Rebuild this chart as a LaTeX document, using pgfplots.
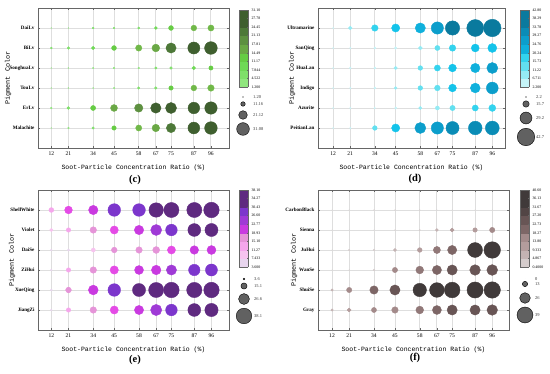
\documentclass[border=0pt]{standalone}
\usepackage{fontspec}
\setmainfont{Liberation Serif}
\setmonofont{Liberation Mono}
\usepackage{pgfplots}
\usepackage{pgfplotstable}
\pgfplotsset{compat=1.18}

\pgfplotsset{
 colormap={cgreen}{rgb255=(144,230,126) rgb255=(127,224,106) rgb255=(111,217,86) rgb255=(102,204,68) rgb255=(112,184,72) rgb255=(106,168,69) rgb255=(93,144,64) rgb255=(77,120,56) rgb255=(63,95,47) rgb255=(63,95,47)},
 colormap={cblue}{rgb255=(197,244,248) rgb255=(149,235,244) rgb255=(98,224,240) rgb255=(51,211,238) rgb255=(20,195,234) rgb255=(15,176,220) rgb255=(12,158,203) rgb255=(10,140,182) rgb255=(10,122,158) rgb255=(10,122,158)},
 colormap={cpurple}{rgb255=(232,213,238) rgb255=(247,195,239) rgb255=(245,166,236) rgb255=(229,148,216) rgb255=(228,75,230) rgb255=(201,58,224) rgb255=(159,58,214) rgb255=(124,54,204) rgb255=(95,42,128) rgb255=(95,42,128)},
 colormap={cbrown}{rgb255=(213,204,204) rgb255=(196,179,179) rgb255=(179,156,156) rgb255=(163,138,138) rgb255=(145,120,120) rgb255=(125,102,102) rgb255=(104,85,85) rgb255=(82,69,69) rgb255=(64,58,58) rgb255=(64,58,58)},
 colormap={cgray}{rgb255=(95,95,95) rgb255=(95,95,95)},
}

\pgfplotsset{
 bubble/.style={
  scale only axis, height=140bp,
  ymin=0, ymax=7, ytick={1,2,3,4,5,6},
  xtick={12,21,34,45,58,67,75,87,96},
  /pgf/number format/assume math mode=true,
  grid=major,
  major grid style={draw=black!13, line width=0.9bp},
  axis line style={draw=black!60, line width=0.8bp},
  every tick/.style={draw=black!60, line width=0.5bp},
  major tick length=2bp,
  tick align=inside,
  xticklabel style={font=\fontsize{5.6}{6}\selectfont},
  yticklabel style={font=\bfseries\fontsize{5.1}{5.5}\selectfont},
  xlabel={Soot-Particle Concentration Ratio (\%)},
  ylabel={Pigment Color},
  xlabel style={font=\ttfamily\fontsize{6.5}{7}\selectfont, yshift=-2.5bp},
  every axis y label/.style={at={(axis description cs:0,0.5)}, xshift=\ylabshift, rotate=90, anchor=center,
     font=\ttfamily\fontsize{6.8}{7}\selectfont},
  colormap access=piecewise constant,
  colorbar sampled,
  colorbar style={
    scale only axis, width=9bp, height=77bp,
    at={(parent axis.north east)}, anchor=north west,
    samples=10,
    colormap access=piecewise constant,
    /pgf/number format/assume math mode=true,
    yticklabel style={font=\fontsize{3.9}{4}\selectfont},
    axis line style={draw=black!60, line width=0.5bp},
    every tick/.style={draw=black!60, line width=0.4bp},
    major tick length=1.2bp,
  },
 },
 bubplot/.style={scatter, only marks, mark=*, point meta=\thisrow{v},
   scatter/use mapped color={draw=mapped color, fill=mapped color},
   visualization depends on={0.205*\thisrow{v} \as \ms},
   scatter/@pre marker code/.append style={/tikz/mark size=\ms pt}},
}
\def\ylabshift{-28bp}

\pgfplotstableread[row sep=\\]{
x y v\\
12 6 1.5\\ 21 6 1.8\\ 34 6 4.5\\ 45 6 4.5\\ 58 6 5.5\\ 67 6 7.5\\ 75 6 12\\ 87 6 14\\ 96 6 15\\
12 5 4.5\\ 21 5 6.5\\ 34 5 8\\ 45 5 12\\ 58 5 15.5\\ 67 5 19\\ 75 5 25\\ 87 5 29.5\\ 96 5 31.1\\
12 4 1.5\\ 21 4 2\\ 34 4 3\\ 45 4 3.8\\ 58 4 4\\ 67 4 6\\ 75 4 6.5\\ 87 4 9\\ 96 4 10.5\\
12 3 1.5\\ 21 3 2\\ 34 3 2.5\\ 45 3 3.5\\ 58 3 6\\ 67 3 6.5\\ 75 3 11\\ 87 3 14\\ 96 3 16\\
12 2 4\\ 21 2 7\\ 34 2 12.5\\ 45 2 17\\ 58 2 20.5\\ 67 2 25.5\\ 75 2 27\\ 87 2 28.5\\ 96 2 30.5\\
12 1 2\\ 21 1 4\\ 34 1 6\\ 45 1 11\\ 58 1 15\\ 67 1 18.5\\ 75 1 23\\ 87 1 29\\ 96 1 31\\
}\datac

\pgfplotstableread[row sep=\\]{
x y v\\
12 6 2.5\\ 21 6 9\\ 34 6 16\\ 45 6 20\\ 58 6 25\\ 67 6 30\\ 75 6 35\\ 87 6 41.5\\ 96 6 42.8\\
12 5 2.4\\ 21 5 3\\ 34 5 5\\ 45 5 6\\ 58 5 9.5\\ 67 5 12.5\\ 75 5 16\\ 87 5 19.5\\ 96 5 22\\
12 4 2.4\\ 21 4 4\\ 34 4 5\\ 45 4 8.5\\ 58 4 11.5\\ 67 4 15\\ 75 4 19\\ 87 4 23\\ 96 4 27\\
12 3 2.4\\ 21 3 3\\ 34 3 5\\ 45 3 7\\ 58 3 11.5\\ 67 3 14\\ 75 3 19\\ 87 3 24\\ 96 3 29\\
12 2 2.3\\ 21 2 2.5\\ 34 2 3\\ 45 2 5.5\\ 58 2 8\\ 67 2 10\\ 75 2 13\\ 87 2 15\\ 96 2 17\\
12 1 2.3\\ 21 1 3\\ 34 1 11.5\\ 45 1 20\\ 58 1 27\\ 67 1 30\\ 75 1 32\\ 87 1 33.5\\ 96 1 34\\
}\datad

\pgfplotstableread[row sep=\\]{
x y v\\
12 6 12\\ 21 6 19\\ 34 6 23\\ 45 6 31\\ 58 6 31\\ 67 6 35.5\\ 75 6 37\\ 87 6 37\\ 96 6 38.1\\
12 5 8\\ 21 5 11\\ 34 5 16\\ 45 5 20\\ 58 5 23\\ 67 5 27\\ 75 5 28.5\\ 87 5 31.5\\ 96 5 32\\
12 4 4\\ 21 4 5\\ 34 4 10\\ 45 4 14\\ 58 4 16\\ 67 4 17\\ 75 4 20\\ 87 4 21\\ 96 4 22\\
12 3 4\\ 21 3 11\\ 34 3 16\\ 45 3 20.5\\ 58 3 22\\ 67 3 23.5\\ 75 3 25\\ 87 3 28\\ 96 3 29.5\\
12 2 4.5\\ 21 2 14\\ 34 2 24\\ 45 2 31\\ 58 2 32\\ 67 2 37\\ 75 2 38\\ 87 2 37.5\\ 96 2 38\\
12 1 4\\ 21 1 11\\ 34 1 16\\ 45 1 20\\ 58 1 22.5\\ 67 1 27.5\\ 75 1 28.5\\ 87 1 31.5\\ 96 1 32.5\\
}\datae

\pgfplotstableread[row sep=\\]{
x y v\\
12 6 0.5\\ 21 6 1.2\\ 34 6 1.5\\ 45 6 1.8\\ 58 6 1.5\\ 67 6 1.2\\ 75 6 0.8\\ 87 6 0.6\\ 96 6 0.5\\
12 5 0.5\\ 21 5 0.6\\ 34 5 0.8\\ 45 5 1.5\\ 58 5 3.5\\ 67 5 7.5\\ 75 5 9.5\\ 87 5 11\\ 96 5 13\\
12 4 1\\ 21 4 3.5\\ 34 4 4\\ 45 4 7.5\\ 58 4 11.5\\ 67 4 17.5\\ 75 4 22.5\\ 87 4 36.5\\ 96 4 40.6\\
12 3 1\\ 21 3 1.5\\ 34 3 4\\ 45 3 13\\ 58 3 19\\ 67 3 22.5\\ 75 3 25\\ 87 3 26\\ 96 3 26.5\\
12 2 6\\ 21 2 13\\ 34 2 20.5\\ 45 2 25\\ 58 2 33\\ 67 2 36\\ 75 2 38.5\\ 87 2 39.5\\ 96 2 40.2\\
12 1 6\\ 21 1 9.5\\ 34 1 12.5\\ 45 1 16\\ 58 1 19\\ 67 1 22\\ 75 1 25\\ 87 1 25\\ 96 1 26\\
}\dataf

\pgfplotstableread[row sep=\\]{
x y v lab\\
243 277 1.20 1.20\\ 243 270 11.16 11.16\\ 243 259 21.12 21.12\\ 243 245 31.08 31.08\\
526 277 2.2 2.2\\ 526 270 15.7 15.7\\ 526 256 29.2 29.2\\ 526 237 42.7 42.7\\
244 95 3.6 3.6\\ 244 88 15.1 15.1\\ 244 75 26.6 26.6\\ 244 58 38.1 38.1\\
525 95 0 0\\ 525 90 13 13\\ 525 76 26 26\\ 525 59 39 39\\
}\datalegend

\begin{document}
\begin{tikzpicture}
\useasboundingbox (0,0) rectangle (550bp,374bp);

% (c)
\def\ylabshift{-30bp}
\begin{axis}[bubble, at={(38bp,226bp)}, anchor=south west, width=191bp,
  xmin=5, xmax=105.5,
  yticklabels={Malachite,ErLv,TouLv,SonghuaLv,BiLv,DaiLv},
  colormap name=cgreen, point meta min=1.2, point meta max=31.1,
  colorbar shift/.style={xshift=10bp, yshift=-2bp},
  colorbar style={ytick={1.2,4.5222,7.8444,11.1667,14.4889,17.8111,21.1333,24.4556,27.7778,31.1},
    yticklabels={1.200,4.522,7.844,11.17,14.49,17.81,21.13,24.45,27.78,31.10}},
  ]
\addplot[bubplot] table {\datac};
\end{axis}

% (d)
\def\ylabshift{-26bp}
\begin{axis}[bubble, at={(318bp,226bp)}, anchor=south west, width=187bp,
  xmin=4, xmax=102.7,
  yticklabels={PeitianLan,Azurite,Indigo,HuaLan,SanQing,Ultramarine},
  colormap name=cblue, point meta min=2.2, point meta max=42.8,
  colorbar shift/.style={xshift=15bp, yshift=-2bp},
  colorbar style={ytick={2.2,6.7111,11.2222,15.7333,20.2444,24.7556,29.2667,33.7778,38.2889,42.8},
    yticklabels={2.200,6.711,11.22,15.73,20.24,24.76,29.27,33.78,38.29,42.80}},
  ]
\addplot[bubplot] table {\datad};
\end{axis}

% (e)
\def\ylabshift{-26bp}
\begin{axis}[bubble, at={(38bp,44bp)}, anchor=south west, width=191bp,
  xmin=5, xmax=105.2,
  yticklabels={JiangZi,XueQing,ZiHui,DaiSe,Violet,ShellWhite},
  colormap name=cpurple, point meta min=3.6, point meta max=38.1,
  colorbar shift/.style={xshift=10bp, yshift=0bp},
  colorbar style={ytick={3.6,7.4333,11.2667,15.1,18.9333,22.7667,26.6,30.4333,34.2667,38.1},
    yticklabels={3.600,7.433,11.27,15.10,18.93,22.77,26.60,30.43,34.27,38.10}},
  ]
\addplot[bubplot] table {\datae};
\end{axis}

% (f)
\def\ylabshift{-24bp}
\begin{axis}[bubble, at={(318bp,44bp)}, anchor=south west, width=191bp,
  xmin=4.65, xmax=104.8,
  yticklabels={Gray,ShuiSe,WanSe,JuHui,Sienna,CarbonBlack},
  colormap name=cbrown, point meta min=0.4, point meta max=40.6,
  colorbar shift/.style={xshift=11bp, yshift=0bp},
  colorbar style={ytick={0.4,4.8667,9.3333,13.8,18.2667,22.7333,27.2,31.6667,36.1333,40.6},
    yticklabels={0.4000,4.867,9.333,13.80,18.27,22.73,27.20,31.67,36.13,40.60}},
  ]
\addplot[bubplot] table {\dataf};
\end{axis}

% size legends
\begin{axis}[at={(0,0)}, anchor=south west, scale only axis, width=550bp, height=374bp,
  xmin=0, xmax=550, ymin=0, ymax=374, hide axis, clip=false,
  colormap name=cgray, point meta min=0, point meta max=50]
\addplot[scatter, only marks, mark=*, point meta=\thisrow{v},
  scatter/use mapped color={draw=none, fill=black!62},
  visualization depends on={0.205*\thisrow{v} \as \ms},
  scatter/@pre marker code/.append style={/tikz/mark size=\ms pt},
  ] table[x=x, y=y] {\datalegend};
\addplot[only marks, mark=none, point meta=explicit symbolic,
  nodes near coords, nodes near coords align=horizontal,
  every node near coord/.append style={anchor=west, font=\fontsize{4.5}{5}\selectfont, text=black!80, inner sep=0pt, xshift=10bp},
  ] table[x=x, y=y, meta=lab] {\datalegend};
\end{axis}

\node[font=\bfseries\fontsize{10.5}{12}\selectfont] at (135bp,194bp) {(c)};
\node[font=\bfseries\fontsize{10.5}{12}\selectfont] at (415bp,195bp) {(d)};
\node[font=\bfseries\fontsize{10.5}{12}\selectfont] at (135bp,14bp) {(e)};
\node[font=\bfseries\fontsize{10.5}{12}\selectfont] at (415bp,16bp) {(f)};
\end{tikzpicture}
\end{document}
